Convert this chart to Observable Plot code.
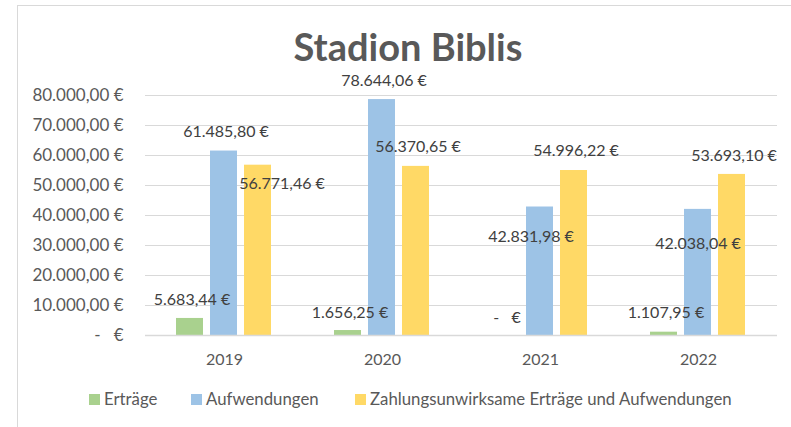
<!DOCTYPE html>
<html><head><meta charset="utf-8">
<script src="https://cdn.jsdelivr.net/npm/d3@7"></script>
<script src="https://cdn.jsdelivr.net/npm/@observablehq/plot@0.6"></script>
<style>
body{margin:0;background:#fff;font-family:Lato,sans-serif;color:#595959;}
#wrap{position:relative;width:791px;height:427px;overflow:hidden;}
#frame{position:absolute;left:17px;top:5px;width:900px;height:600px;border-left:1px solid #d9d9d9;border-top:1px solid #d9d9d9;}
#title{position:absolute;left:0;top:24px;width:816px;text-align:center;font-size:38px;line-height:44px;font-weight:bold;color:#595959;}
#chart{position:absolute;left:0;top:0;}
svg text{white-space:pre;}
.leg{position:absolute;top:389px;height:20px;line-height:20px;font-size:16.8px;white-space:nowrap;display:flex;align-items:center;}
.sw{display:inline-block;width:11px;height:11px;margin-right:4px;}
</style></head>
<body>
<div id="wrap">
  <div id="frame"></div>
  <div id="title"></div>
  <div id="chart"></div>
  <div id="legend"></div>
</div>
<script>
// ---- data ----
const title = "Stadion Biblis";
const years = ["2019", "2020", "2021", "2022"];
const series = ["Erträge", "Aufwendungen", "Zahlungsunwirksame Erträge und Aufwendungen"];
const ertraege = [5683.44, 1656.25, 0, 1107.95];
const aufwendungen = [61485.80, 78644.06, 42831.98, 42038.04];
const zahlungsunwirksam = [56771.46, 56370.65, 54996.22, 53693.10];
const yTicks = [0, 10000, 20000, 30000, 40000, 50000, 60000, 70000, 80000];
const colors = ["#A9D18E", "#9DC3E6", "#FFD966"];

// ---- layout of data labels (pixel offsets from bar top, per year x series) ----
const labelOffsets = [
  [[2, -19], [2, -19], [24, 19]],
  [[2, -18], [2, -19], [2, -20]],
  [[1, -18], [-9, 30], [2, -20]],
  [[2, -19], [0, 34], [2, -19]]
];

const values = [ertraege, aufwendungen, zahlungsunwirksam];
const rows = [];
years.forEach((yr, i) => series.forEach((s, j) => rows.push({year: yr, series: s, value: values[j][i], yi: i, sj: j})));

const de = d3.formatLocale({decimal: ",", thousands: ".", grouping: [3], currency: ["", " €"]});
const f2 = de.format(",.2f");
const fmt = v => v === 0 ? "-   €" : f2(v) + " €";

document.getElementById("title").textContent = title;

const labelMarks = rows.map(r => Plot.text([r], {
  fx: "year", x: "series", y: "value", text: d => fmt(d.value),
  dx: labelOffsets[r.yi][r.sj][0], dy: labelOffsets[r.yi][r.sj][1],
  lineAnchor: "middle", fill: "#404040", fontSize: 16
}));

const chart = Plot.plot({
  width: 791, height: 427,
  marginTop: 95, marginBottom: 92, marginLeft: 143, marginRight: 13,
  style: {fontFamily: "Lato, sans-serif", fontSize: "16px", color: "#595959", background: "transparent", overflow: "visible"},
  fx: {domain: years, padding: 0, label: null},
  x: {domain: series, paddingInner: 0.2, paddingOuter: 0.868, axis: null},
  y: {domain: [0, 80000], axis: null},
  color: {domain: series, range: colors},
  marks: [
    Plot.gridY(yTicks, {stroke: "#d9d9d9", strokeOpacity: 1}),
    Plot.axisY(yTicks, {tickSize: 0, tickPadding: 22, tickFormat: fmt, fontSize: 17, label: null}),
    Plot.axisFx({anchor: "bottom", tickSize: 0, tickPadding: 18, fontSize: 16, label: null}),
    Plot.barY(rows, {fx: "year", x: "series", y: "value", fill: "series", inset: 0}),
    Plot.ruleY([0], {stroke: "#d9d9d9", strokeWidth: 1.5}),
    ...labelMarks
  ]
});
document.getElementById("chart").appendChild(chart);

// legend
const legPos = [89, 191, 355];
const leg = document.getElementById("legend");
series.forEach((s, j) => {
  const d = document.createElement("div");
  d.className = "leg";
  d.style.left = legPos[j] + "px";
  d.innerHTML = `<span class="sw" style="background:${colors[j]}"></span><span>${s}</span>`;
  leg.appendChild(d);
});
</script>
</body></html>
